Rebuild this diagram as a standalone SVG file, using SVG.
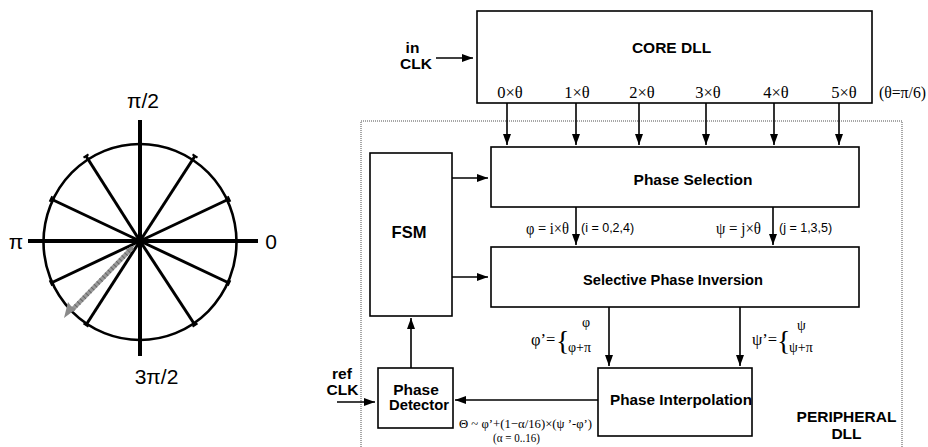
<svg xmlns="http://www.w3.org/2000/svg" width="928" height="447" viewBox="0 0 928 447">
<style>
.box{fill:#fff;stroke:#000;stroke-width:1.6}
.b{font-family:"Liberation Sans",Arial,sans-serif;font-weight:bold;font-size:15.5px;fill:#000}
.s{font-family:"Liberation Serif","Times New Roman",serif;font-size:16.5px;fill:#000}
.sm{font-family:"Liberation Sans",Arial,sans-serif;font-size:12.5px;fill:#000}
.ax{font-family:"Liberation Sans",Arial,sans-serif;font-size:21px;fill:#000}
.c{stroke:#000;stroke-width:1.6;fill:none;marker-end:url(#ah)}
.rad{stroke:#000;stroke-width:3;stroke-linecap:butt}
.tk{stroke:#000;stroke-width:2}
</style>
<defs>
<marker id="ah" markerUnits="userSpaceOnUse" markerWidth="12" markerHeight="10" refX="11" refY="4" orient="auto">
<path d="M0,0 L11,4 L0,8 Z" fill="#000"/>
</marker>
</defs>

<g id="phase-circle">
<ellipse cx="140" cy="242" rx="96.5" ry="98" fill="none" stroke="#000" stroke-width="2.6"/>
<line x1="28" y1="241" x2="258" y2="241" stroke="#000" stroke-width="4"/>
<line x1="140" y1="120" x2="140" y2="356" stroke="#000" stroke-width="4"/>
<line class="rad" x1="140" y1="241" x2="195" y2="156"/>
<line class="rad" x1="140" y1="241" x2="86" y2="156"/>
<line class="rad" x1="140" y1="241" x2="229" y2="199"/>
<line class="rad" x1="140" y1="241" x2="51" y2="199"/>
<line class="rad" x1="140" y1="241" x2="51" y2="283"/>
<line class="rad" x1="140" y1="241" x2="86" y2="325"/>
<line class="rad" x1="140" y1="241" x2="195" y2="325"/>
<line class="rad" x1="140" y1="241" x2="229" y2="283"/>
<line class="tk" x1="192.5" y1="154.4" x2="197.5" y2="157.6"/>
<line class="tk" x1="88.5" y1="154.4" x2="83.5" y2="157.6"/>
<line class="tk" x1="227.7" y1="196.3" x2="230.3" y2="201.7"/>
<line class="tk" x1="52.3" y1="196.3" x2="49.7" y2="201.7"/>
<line class="tk" x1="49.7" y1="280.3" x2="52.3" y2="285.7"/>
<line class="tk" x1="83.5" y1="323.4" x2="88.5" y2="326.6"/>
<line class="tk" x1="197.5" y1="323.4" x2="192.5" y2="326.6"/>
<line class="tk" x1="230.3" y1="280.3" x2="227.7" y2="285.7"/>
<line x1="132" y1="248" x2="72" y2="310" stroke="#9a9a9a" stroke-width="4.5"/>
<line x1="132" y1="248" x2="72" y2="310" stroke="#666" stroke-width="4.5" stroke-dasharray="1 3"/>
<path d="M64,318 L68,302 L71,306 L76,309 Z" fill="#8a8a8a"/>
<path d="M131,251 L135,245 L125,250 Z" fill="#8a8a8a"/>
<text class="ax" x="143" y="108" text-anchor="middle">π/2</text>
<text class="ax" x="16" y="249" text-anchor="middle">π</text>
<text class="ax" x="271" y="249" text-anchor="middle">0</text>
<text class="ax" x="156.5" y="384" text-anchor="middle">3π/2</text>
</g>

<g id="peripheral-dll">
<path d="M361,447 L361,121 L902,121 L902,447" fill="none" stroke="#8a8a8a" stroke-width="1.5" stroke-dasharray="1 1"/>
<text class="b" x="846.5" y="422" text-anchor="middle">PERIPHERAL</text>
<text class="b" x="846.5" y="439" text-anchor="middle">DLL</text>
</g>

<g id="core-dll">
<rect class="box" x="477" y="11" width="395" height="92"/>
<text class="b" x="671.5" y="53" text-anchor="middle">CORE DLL</text>
<text class="s" x="510" y="98" text-anchor="middle">0×θ</text>
<text class="s" x="577" y="98" text-anchor="middle">1×θ</text>
<text class="s" x="642" y="98" text-anchor="middle">2×θ</text>
<text class="s" x="708" y="98" text-anchor="middle">3×θ</text>
<text class="s" x="776" y="98" text-anchor="middle">4×θ</text>
<text class="s" x="844" y="98" text-anchor="middle">5×θ</text>
<text class="s" x="879" y="98" textLength="47" lengthAdjust="spacingAndGlyphs">(θ=π/6)</text>
</g>

<g id="in-clk">
<text class="b" x="412.5" y="53" text-anchor="middle">in</text>
<text class="b" x="416" y="69" text-anchor="middle">CLK</text>
</g>

<g id="phase-selection">
<rect class="box" x="491" y="147" width="368" height="60"/>
<text class="b" x="693" y="185" text-anchor="middle">Phase Selection</text>
</g>

<g id="selective-phase-inversion">
<rect class="box" x="491" y="247" width="368" height="60"/>
<text class="b" x="673" y="285" text-anchor="middle" textLength="180" lengthAdjust="spacingAndGlyphs">Selective Phase Inversion</text>
</g>

<g id="fsm">
<rect class="box" x="370" y="153" width="82" height="163"/>
<text class="b" x="409" y="238" text-anchor="middle" style="font-size:16.5px">FSM</text>
</g>

<g id="phase-detector">
<rect class="box" x="378" y="368" width="75" height="60"/>
<text class="b" x="416" y="395" text-anchor="middle">Phase</text>
<text class="b" x="419" y="410" text-anchor="middle" style="font-size:14.8px">Detector</text>
</g>

<g id="ref-clk">
<text class="b" x="342" y="379" text-anchor="middle">ref</text>
<text class="b" x="342.5" y="395" text-anchor="middle">CLK</text>
</g>

<g id="phase-interpolation">
<rect class="box" x="598" y="368" width="154" height="68"/>
<text class="b" x="610" y="405" textLength="142" lengthAdjust="spacingAndGlyphs">Phase Interpolation</text>
</g>

<g id="connectors">
<line class="c" x1="436" y1="58" x2="473" y2="58"/>
<line class="c" x1="507" y1="103" x2="507" y2="145"/>
<line class="c" x1="576" y1="103" x2="576" y2="145"/>
<line class="c" x1="639" y1="103" x2="639" y2="145"/>
<line class="c" x1="706" y1="103" x2="706" y2="145"/>
<line class="c" x1="774" y1="103" x2="774" y2="145"/>
<line class="c" x1="839" y1="103" x2="839" y2="145"/>
<line class="c" x1="452" y1="178" x2="488" y2="178"/>
<line class="c" x1="452" y1="277" x2="488" y2="277"/>
<line class="c" x1="576" y1="207" x2="576" y2="245"/>
<line class="c" x1="773" y1="207" x2="773" y2="245"/>
<line class="c" x1="609" y1="307" x2="609" y2="366"/>
<line class="c" x1="740" y1="307" x2="740" y2="366"/>
<line class="c" x1="411" y1="368" x2="411" y2="318"/>
<line class="c" x1="598" y1="400" x2="455" y2="400"/>
<line class="c" x1="337" y1="402" x2="375" y2="402"/>
</g>

<g id="labels">
<text class="s" x="526" y="234" textLength="43" lengthAdjust="spacingAndGlyphs">φ = i×θ</text>
<text class="sm" x="581" y="232">(i = 0,2,4)</text>
<text class="s" x="716" y="234" textLength="45" lengthAdjust="spacingAndGlyphs">ψ = j×θ</text>
<text class="sm" x="779" y="232">(j = 1,3,5)</text>
<text class="s" x="531" y="345">φ’=</text>
<text class="s" x="556" y="350" style="font-size:28px">{</text>
<text class="s" x="582" y="327" style="font-size:14px">φ</text>
<text class="s" x="568" y="352" style="font-size:14px">φ+π</text>
<text class="s" x="752" y="345">ψ’=</text>
<text class="s" x="777" y="350" style="font-size:28px">{</text>
<text class="s" x="797" y="330" style="font-size:14px">ψ</text>
<text class="s" x="789" y="352" style="font-size:14px">ψ+π</text>
<text class="s" x="459" y="428" style="font-size:13px" textLength="133" lengthAdjust="spacingAndGlyphs">Θ ~ φ’+(1−α/16)×(ψ ’-φ’)</text>
<text class="s" x="493" y="442" style="font-size:13px" textLength="47" lengthAdjust="spacingAndGlyphs">(α = 0..16)</text>
</g>
</svg>
